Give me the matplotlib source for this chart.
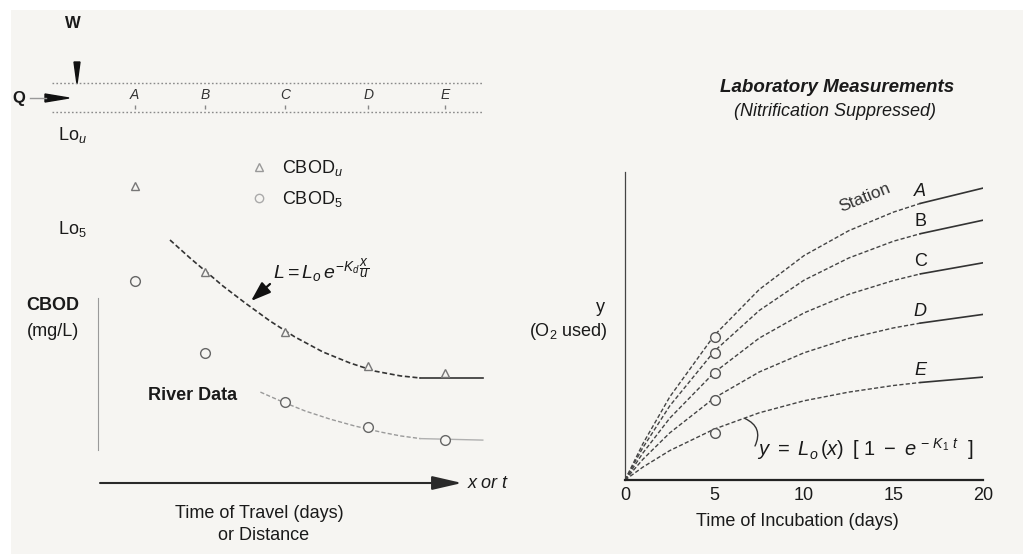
import matplotlib
matplotlib.use("Agg")
import matplotlib.pyplot as plt
from matplotlib.lines import Line2D
from matplotlib.patches import Polygon, Rectangle
import matplotlib.transforms as mtransforms

plt.rcParams['font.family'] = ['Liberation Sans', 'DejaVu Sans']
plt.rcParams['mathtext.fontset'] = 'custom'
plt.rcParams['mathtext.rm'] = 'Liberation Sans'
plt.rcParams['mathtext.it'] = 'Liberation Sans:italic'
plt.rcParams['mathtext.bf'] = 'Liberation Sans:bold'

# ---------------- data ----------------
stations = ['A', 'B', 'C', 'D', 'E']
# left panel: river data (time of travel, days) and CBOD (mg/L)
travel_days = [0.46, 1.34, 2.34, 3.38, 4.34]
cbod_u = [9.9, 7.03, 5.03, 3.9, 3.67]
cbod_5 = [6.73, 4.33, 2.7, 1.87, 1.43]
# fitted decay curves
fit_u_x = [0.90, 1.15, 1.34, 1.56, 1.84, 2.15, 2.46, 2.81, 3.15, 3.46, 3.78, 4.03, 4.81]
fit_u_y = [8.1, 7.5, 7.07, 6.57, 6.0, 5.4, 4.87, 4.37, 4.0, 3.73, 3.57, 3.5, 3.5]
fit_5_x = [2.03, 2.31, 2.59, 2.90, 3.21, 3.53, 3.78, 4.03, 4.81]
fit_5_y = [3.03, 2.7, 2.4, 2.13, 1.9, 1.7, 1.57, 1.48, 1.43]

# right panel: laboratory BOD curves (incubation days, O2 used)
incub_days = [0, 1, 2.5, 5, 7.5, 10, 12.5, 15, 16.5, 20]
bod_A = [0, 1.21, 2.77, 4.83, 6.35, 7.48, 8.31, 8.93, 9.22, 9.73]
bod_B = [0, 1.08, 2.47, 4.30, 5.65, 6.66, 7.40, 7.96, 8.21, 8.66]
bod_C = [0, 0.90, 2.06, 3.59, 4.73, 5.57, 6.19, 6.65, 6.87, 7.24]
bod_D = [0, 0.69, 1.57, 2.74, 3.60, 4.24, 4.72, 5.07, 5.23, 5.52]
bod_E = [0, 0.43, 0.98, 1.70, 2.24, 2.64, 2.93, 3.15, 3.25, 3.43]
meas_day = 5
meas_bod = [4.77, 4.23, 3.57, 2.67, 1.57]
x_ticks = [0, 5, 10, 15, 20]

# ---------------- figure ----------------
W, H = 1023, 554
def fx(px): return px / W
def fy(py): return 1 - py / H

BG = '#f6f5f2'
fig = plt.figure(figsize=(W / 100, H / 100), dpi=100, facecolor='white')
fig.add_artist(Rectangle((fx(11), 0), 1, fy(10), transform=fig.transFigure,
                         facecolor=BG, edgecolor='none', zorder=-10))
TXT = '#1a1a1a'

# ======== left panel ========
ax1 = fig.add_axes([fx(98), fy(483), (490 - 98) / W, (483 - 170) / H])
ax1.set_facecolor('none')
ax1.set_xlim(0, 4.9)
ax1.set_ylim(0, 313 / 30)
for s in ['top', 'right', 'bottom']:
    ax1.spines[s].set_visible(False)
ax1.spines['left'].set_bounds(1.1, 6.17)
ax1.spines['left'].set_color('#9a9a9a')
ax1.spines['left'].set_linewidth(0.8)
ax1.set_xticks([]); ax1.set_yticks([])

ax1.plot(fit_u_x[:-1], fit_u_y[:-1], color='#333333', lw=1.2, dashes=(3, 1.6))
ax1.plot(fit_u_x[-2:], fit_u_y[-2:], color='#333333', lw=1.2)
ax1.plot(fit_5_x[:-1], fit_5_y[:-1], color='#9a9a9a', lw=1.0, dashes=(3, 1.6))
ax1.plot(fit_5_x[-2:], fit_5_y[-2:], color='#b0b0b0', lw=1.0)
ax1.plot(travel_days, cbod_u, ls='none', marker='^', ms=6, mfc=BG, mec='#777777', mew=1.0)
ax1.plot(travel_days, cbod_5, ls='none', marker='o', ms=7, mfc=BG, mec='#666666', mew=1.0)

# x axis arrow
ax1.annotate('', xy=(fx(462), fy(483)), xytext=(fx(100), fy(483)),
             xycoords='figure fraction', textcoords='figure fraction',
             arrowprops=dict(arrowstyle='-|>,head_length=1.3,head_width=0.3',
                             color='#2a2a2a', lw=1.5, mutation_scale=14,
                             shrinkA=0, shrinkB=0))
fig.text(fx(468), fy(483), 'x or t', fontsize=13, style='italic', color=TXT,
         ha='left', va='center')
fig.text(fx(259), fy(513), 'Time of Travel (days)', fontsize=13, color=TXT,
         ha='center', va='center')
fig.text(fx(264), fy(535), 'or Distance', fontsize=13, color=TXT,
         ha='center', va='center')
fig.text(fx(53), fy(305), 'CBOD', fontsize=13, fontweight='bold', color=TXT,
         ha='center', va='center')
fig.text(fx(53), fy(332), '(mg/L)', fontsize=13, color=TXT, ha='center', va='center')
fig.text(fx(148), fy(396), 'River Data', fontsize=13, fontweight='bold', color=TXT,
         ha='left', va='center')

# legend
leg_handles = [Line2D([], [], ls='none', marker='^', ms=6, mfc=BG, mec='#999999'),
               Line2D([], [], ls='none', marker='o', ms=6, mfc=BG, mec='#aaaaaa')]
leg = ax1.legend(leg_handles, [r'CBOD$_u$', r'CBOD$_5$'], loc='upper left',
                 bbox_to_anchor=(fx(250), fy(158)), bbox_transform=fig.transFigure,
                 frameon=False, fontsize=13, handlelength=1.0, handletextpad=0.8,
                 labelspacing=0.6, borderpad=0, borderaxespad=0)
for t in leg.get_texts():
    t.set_color(TXT)

# decay equation with arrow
fig.text(fx(273), fy(285), r'$L = L_o\,e^{-K_d\,\dfrac{x}{u}}$', fontsize=14,
         color=TXT, ha='left', va='bottom')
ax1.annotate('', xy=(fx(251), fy(301)), xytext=(fx(270), fy(284)),
             xycoords='figure fraction', textcoords='figure fraction',
             arrowprops=dict(arrowstyle='-|>,head_length=1.0,head_width=0.35',
                             color='#111111', lw=1.6, mutation_scale=12,
                             shrinkA=0, shrinkB=0))

# Lo labels
fig.text(fx(58), fy(135), r'Lo$_u$', fontsize=13, color=TXT, ha='left', va='center')
fig.text(fx(58), fy(229), r'Lo$_5$', fontsize=13, color=TXT, ha='left', va='center')

# river schematic
for yy in (83, 112):
    fig.add_artist(Line2D([fx(52), fx(483)], [fy(yy), fy(yy)], transform=fig.transFigure,
                          color='#8a8a8a', lw=1.0, ls=(0, (1.2, 1.6))))
fig.text(fx(73), fy(23), 'W', fontsize=12, fontweight='bold', color=TXT,
         ha='center', va='center')
fig.add_artist(Polygon([[fx(74), fy(62)], [fx(80), fy(62)], [fx(77), fy(84)]],
                       closed=True, transform=fig.transFigure, color='#111111'))
fig.text(fx(19), fy(98), 'Q', fontsize=12, fontweight='bold', color=TXT,
         ha='center', va='center')
fig.add_artist(Line2D([fx(30), fx(46)], [fy(98), fy(98)], transform=fig.transFigure,
                      color='#999999', lw=1.0))
fig.add_artist(Polygon([[fx(45), fy(94)], [fx(45), fy(102)], [fx(69), fy(98)]],
                       closed=True, transform=fig.transFigure, color='#111111'))
blend = mtransforms.blended_transform_factory(ax1.transData, fig.transFigure)
for xd, lab in zip(travel_days, stations):
    ax1.text(xd, fy(95), lab, transform=blend, fontsize=10, style='italic',
             color='#333333', ha='center', va='center')
ax1.plot(travel_days, [fy(107)] * len(travel_days), transform=blend, ls='none',
         marker='|', ms=3, color='#888888', clip_on=False)

# ======== right panel ========
ax2 = fig.add_axes([fx(625), fy(480), (983 - 625) / W, (480 - 172) / H])
ax2.set_facecolor('none')
ax2.set_xlim(0, 20)
ax2.set_ylim(0, 308 / 30)
ax2.spines['top'].set_visible(False)
ax2.spines['right'].set_visible(False)
ax2.spines['left'].set_color('#444444')
ax2.spines['left'].set_linewidth(0.9)
ax2.spines['bottom'].set_color('#222222')
ax2.spines['bottom'].set_linewidth(1.6)
ax2.set_xticks(x_ticks)
ax2.set_xticklabels([str(v) for v in x_ticks])
ax2.set_yticks([])
ax2.tick_params(axis='x', length=0, pad=5, labelsize=13, labelcolor=TXT)

curves = [bod_A, bod_B, bod_C, bod_D, bod_E]
label_style = ['italic', 'normal', 'normal', 'italic', 'italic']
for cv, lab, st in zip(curves, stations, label_style):
    ax2.plot(incub_days[:-1], cv[:-1], color='#444444', lw=1.0, dashes=(3, 1.6))
    ax2.plot(incub_days[-2:], cv[-2:], color='#333333', lw=1.2)
    ax2.text(incub_days[-2], cv[-2] + 0.12, lab, fontsize=13, style=st, color=TXT,
             ha='center', va='bottom')
ax2.plot([meas_day] * len(meas_bod), meas_bod, ls='none', marker='o', ms=7,
         mfc=BG, mec='#555555', mew=1.0)

fig.text(fx(865), fy(198), 'Station', fontsize=12.5, color='#333333', rotation=22,
         ha='center', va='center')
fig.text(fx(837), fy(88), 'Laboratory Measurements', fontsize=13.5, fontweight='bold',
         style='italic', color=TXT, ha='center', va='center')
fig.text(fx(835), fy(112), '(Nitrification Suppressed)', fontsize=13, style='italic',
         color=TXT, ha='center', va='center')
fig.text(fx(600), fy(307), 'y', fontsize=13, color=TXT, ha='center', va='center')
fig.text(fx(568), fy(332), r'(O$_2$ used)', fontsize=13, color=TXT, ha='center', va='center')
fig.text(fx(797), fy(521), 'Time of Incubation (days)', fontsize=13, color=TXT,
         ha='center', va='center')
fig.text(fx(757), fy(449), r'$y\ =\ L_o\,(x)\ \,[\ 1\ -\ e^{\,-\,K_1\ t}\ \ ]$', fontsize=14.5,
         color=TXT, ha='left', va='center')
ax2.annotate('', xy=(6.7, 2.05), xytext=(fx(755), fy(446)),
             textcoords='figure fraction',
             arrowprops=dict(arrowstyle='-', color='#333333', lw=1.0,
                             connectionstyle='arc3,rad=0.5', shrinkA=0, shrinkB=0))

fig.savefig('out.png', dpi=100, facecolor=fig.get_facecolor())
